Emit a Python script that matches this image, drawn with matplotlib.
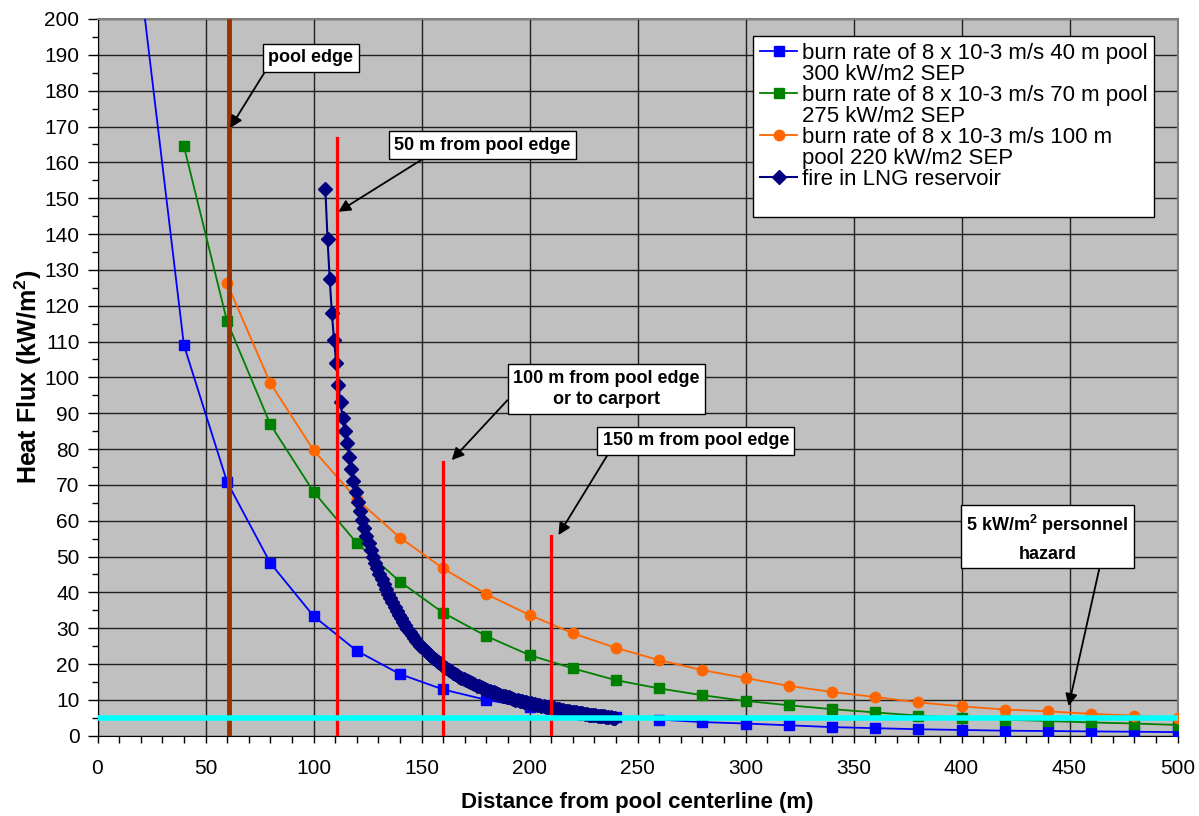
import numpy as np
import matplotlib
matplotlib.use("Agg")
from matplotlib import pyplot as plt
from matplotlib.lines import Line2D
from matplotlib.ticker import MultipleLocator

plt.rcParams['font.family'] = ['Liberation Sans', 'DejaVu Sans']
plt.rcParams['mathtext.fontset'] = 'custom'
plt.rcParams['mathtext.rm'] = 'Liberation Sans'
plt.rcParams['mathtext.bf'] = 'Liberation Sans:bold'

# distance from pool centreline (m)
dist = [20, 40, 60, 80, 100, 120, 140, 160, 180, 200, 220, 240, 260, 280,
        300, 320, 340, 360, 380, 400, 420, 440, 460, 480, 500]

# 40 m pool, 300 kW/m2 SEP
flux_40 = [210, 109, 70.8, 48.2, 33.4, 23.7, 17.2, 12.9, 10.0, 7.9, 6.4, 5.3,
           4.5, 3.8, 3.4, 2.9, 2.4, 2.1, 1.8, 1.6, 1.4, 1.3, 1.2, 1.1, 1.0]
# 70 m pool, 275 kW/m2 SEP (starts at 40 m)
flux_70 = [164.5, 115.6, 86.9, 68.1, 53.8, 43.0, 34.3, 27.8, 22.5, 18.8, 15.5,
           13.2, 11.3, 9.7, 8.5, 7.4, 6.5, 5.6, 5.0, 4.5, 4.1, 3.7, 3.4, 3.0]
# 100 m pool, 220 kW/m2 SEP (starts at 60 m)
flux_100 = [126.2, 98.4, 79.7, 66.0, 55.3, 46.7, 39.5, 33.7, 28.6, 24.5, 21.1,
            18.3, 16.1, 13.9, 12.2, 10.8, 9.3, 8.2, 7.3, 6.8, 6.1, 5.6, 5.0]

# fire in LNG reservoir, 1 m steps from 105.5 m
lng_x = np.arange(105.5, 240.0, 1.0)
lng_flux = [
    152.5, 138.5, 127.5, 118.0, 110.5, 104.0, 98.0, 93.0, 88.6, 84.9,
    81.6, 77.8, 74.3, 71.0, 68.0, 65.2, 62.6, 60.2, 57.9, 55.7,
    53.7, 51.8, 50.0, 48.3, 46.7, 45.2, 43.7, 42.2, 40.9, 39.6,
    38.4, 37.2, 36.0, 34.9, 33.8, 32.8, 31.8, 30.8, 29.9, 29.0,
    28.1, 27.3, 26.5, 25.8, 25.1, 24.5, 23.9, 23.3, 22.7, 22.2,
    21.7, 21.2, 20.7, 20.2, 19.7, 19.3, 18.8, 18.4, 18.0, 17.6,
    17.2, 16.9, 16.5, 16.2, 15.8, 15.5, 15.2, 14.9, 14.6, 14.3,
    14.0, 13.8, 13.5, 13.2, 13.0, 12.8, 12.5, 12.3, 12.1, 11.8,
    11.6, 11.4, 11.2, 11.0, 10.9, 10.7, 10.5, 10.3, 10.1, 10.0,
    9.8, 9.6, 9.5, 9.3, 9.2, 9.1, 8.9, 8.8, 8.6, 8.5,
    8.4, 8.3, 8.1, 8.0, 7.9, 7.8, 7.7, 7.5, 7.4, 7.3,
    7.2, 7.0, 6.9, 6.8, 6.7, 6.6, 6.5, 6.4, 6.3, 6.25,
    6.1, 6.0, 5.9, 5.8, 5.75, 5.65, 5.6, 5.5, 5.45, 5.4,
    5.3, 5.2, 5.1, 5.0, 4.9]

labels = ["burn rate of 8 x 10-3 m/s 40 m pool", "300 kW/m2 SEP",
          "burn rate of 8 x 10-3 m/s 70 m pool", "275 kW/m2 SEP",
          "burn rate of 8 x 10-3 m/s 100 m", "pool 220 kW/m2 SEP",
          "fire in LNG reservoir"]

pool_edge = 61
edge_lines = [111, 160, 210]      # 50, 100, 150 m from pool edge
edge_tops = [166.7, 76.3, 55.8]
hazard = 5

fig = plt.figure(figsize=(11.99, 8.16), dpi=100)
ax = fig.add_axes([97.5 / 1199, 1 - 735.7 / 816, 1080 / 1199, 716.7 / 816])
ax.set_facecolor('#C0C0C0')

h1, = ax.plot(dist, flux_40, '-s', color='#0000FF', ms=7, lw=1.3, zorder=3)
h2, = ax.plot(dist[1:], flux_70, '-s', color='#008000', ms=7, lw=1.3, zorder=3)
h3, = ax.plot(dist[2:], flux_100, '-o', color='#FF6600', ms=7.5, lw=1.3, zorder=3)
h4, = ax.plot(lng_x, lng_flux, '-D', color='#000080', ms=7, lw=1.5, zorder=4)

# pool edge and distance markers
ax.plot([pool_edge, pool_edge], [0, 200], color='#993300', lw=3.5, zorder=5)
for xv, top in zip(edge_lines, edge_tops):
    ax.plot([xv, xv], [0, top], color='#FF0000', lw=2.3, zorder=5)
ax.axhline(hazard, color='#00FFFF', lw=4, zorder=6)

ax.set_xlim(0, 500)
ax.set_ylim(0, 200)
ax.xaxis.set_major_locator(MultipleLocator(50))
ax.xaxis.set_minor_locator(MultipleLocator(10))
ax.yaxis.set_major_locator(MultipleLocator(10))
ax.yaxis.set_minor_locator(MultipleLocator(5))
ax.grid(True, which='major', color='#202020', lw=1.0, zorder=1)
ax.set_axisbelow(True)
ax.tick_params(axis='x', which='both', length=5, width=1, labelsize=15, pad=12)
ax.tick_params(axis='y', which='major', length=7, width=1, labelsize=15, pad=6)
ax.tick_params(axis='y', which='minor', length=4, width=1)
for s in ['top', 'right']:
    ax.spines[s].set_color('#808080')
    ax.spines[s].set_linewidth(1.5)

ax.set_xlabel("Distance from pool centerline (m)", fontsize=16,
              fontweight='bold', labelpad=10)
ax.set_ylabel(r"Heat Flux (kW/m$\mathregular{^2}$)", fontsize=18,
              fontweight='bold', labelpad=0)

blank = Line2D([], [], linestyle='none')
handles = [h1, blank, h2, blank, h3, blank, h4, blank]
leg = ax.legend(handles, labels + [""], loc='upper left',
                bbox_to_anchor=(0.6074, 0.9763), fontsize=16,
                frameon=True, fancybox=False, framealpha=1,
                edgecolor='black', borderpad=0.3, borderaxespad=0,
                handlelength=1.67, handletextpad=0.2, labelspacing=0.0)
leg.get_frame().set_linewidth(1.0)
leg.set_zorder(10)

box = dict(boxstyle='square,pad=0.3', fc='white', ec='black', lw=1.0)


def note(text, xy, xytext, rel, spacing=1.2):
    ax.annotate(text, xy=xy, xytext=xytext, ha='center', va='center',
                fontsize=13, fontweight='bold', bbox=box, zorder=11,
                linespacing=spacing,
                arrowprops=dict(arrowstyle='-|>', color='black', lw=1.3,
                                mutation_scale=18, relpos=rel,
                                shrinkA=0, shrinkB=0))


note("pool edge", (61.4, 169.6), (98.8, 189.2), (0.0, 0.0))
note("50 m from pool edge", (111.5, 146.2), (178.2, 164.8), (0.21, 0.0))
note("100 m from pool edge\nor to carport", (164.0, 76.9), (235.7, 96.8),
     (0.0, 0.37), spacing=1.35)
note("150 m from pool edge", (213.4, 56.0), (277.0, 82.3), (0.045, 0.0))
note("5 kW/m$\\mathregular{^2}$ personnel\nhazard", (449.6, 8.3),
     (439.9, 55.3), (0.826, 0.0), spacing=1.7)

fig.savefig("out.png", dpi=100)
